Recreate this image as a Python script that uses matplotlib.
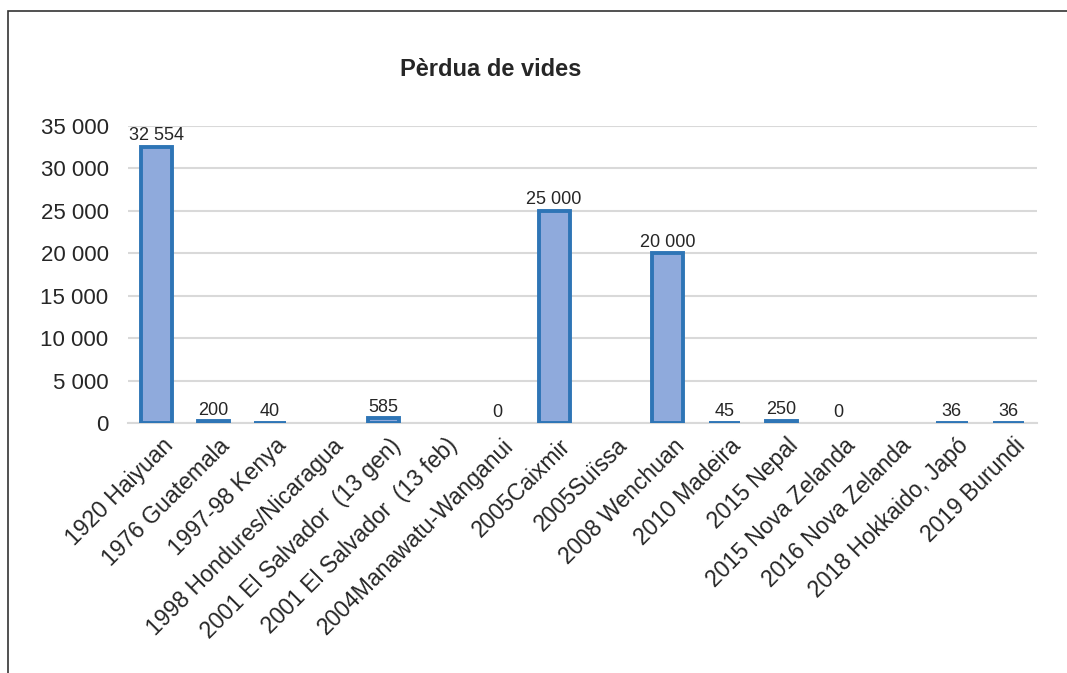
import matplotlib
matplotlib.use('Agg')
import matplotlib.pyplot as plt
from matplotlib.patches import Rectangle
from matplotlib.ticker import FuncFormatter
from matplotlib.transforms import ScaledTranslation
import numpy as np

plt.rcParams['font.family'] = ['Liberation Sans', 'DejaVu Sans']

# dades
categories = ['1920 Haiyuan', '1976 Guatemala', '1997-98 Kenya',
              '1998 Hondures/Nicaragua', '2001 El Salvador  (13 gen)',
              '2001 El Salvador  (13 feb)', '2004Manawatu-Wanganui',
              '2005Caixmir', '2005Suïssa', '2008 Wenchuan', '2010 Madeira',
              '2015 Nepal', '2015 Nova Zelanda', '2016 Nova Zelanda',
              '2018 Hokkaido, Japó', '2019 Burundi']
values = [32554, 200, 40, np.nan, 585, np.nan, 0, 25000, np.nan, 20000,
          45, 250, 0, np.nan, 36, 36]
yticks = [0, 5000, 10000, 15000, 20000, 25000, 30000, 35000]


def fmt(v):
    return f'{int(v):,}'.replace(',', ' ')


fig = plt.figure(figsize=(10.67, 6.73), dpi=100)
ax = fig.add_axes([0.12, 0.3715, 0.852, 0.4413])

x = np.arange(len(categories))
edges = ['none' if v == 0 else '#2E75B6' for v in values]
ax.bar(x, values, width=0.55, color='#8FAADC', edgecolor=edges,
       linewidth=2.8, zorder=3)

for xi, v in zip(x, values):
    if np.isnan(v):
        continue
    ax.text(xi, v + 280, fmt(v), ha='center', va='bottom', fontsize=13,
            color='#262626', zorder=4)

ax.set_ylim(0, 35000)
ax.set_xlim(-0.5, len(categories) - 0.5)
ax.set_yticks(yticks)
ax.yaxis.set_major_formatter(FuncFormatter(lambda v, p: fmt(v)))
ax.tick_params(axis='y', length=0, labelsize=16, colors='#262626', pad=14)
ax.tick_params(axis='x', length=0, labelsize=16.5, colors='#262626', pad=8)
ax.set_xticks(x)
ax.set_xticklabels(categories, rotation=45, ha='right', rotation_mode='anchor')
shift = ScaledTranslation(5 / 100, 0, fig.dpi_scale_trans)
for lbl in ax.get_xticklabels():
    lbl.set_transform(lbl.get_transform() + shift)
ax.grid(axis='y', color='#D9D9D9', linewidth=1.5, zorder=0)
for s in ['top', 'right', 'left']:
    ax.spines[s].set_visible(False)
ax.spines['bottom'].set_color('#D9D9D9')
ax.spines['bottom'].set_linewidth(1.5)

fig.text(491 / 1067, 1 - 70 / 673, 'Pèrdua de vides', ha='center', va='center',
         fontsize=17, fontweight='bold', color='#262626')

# marc de la figura
fig.patches.append(Rectangle((8 / 1067, -0.1), 1.2, 1 - 11 / 673 + 0.1,
                             transform=fig.transFigure, fill=False,
                             edgecolor='#333333', linewidth=1.2))

plt.savefig('out.png', dpi=100)
